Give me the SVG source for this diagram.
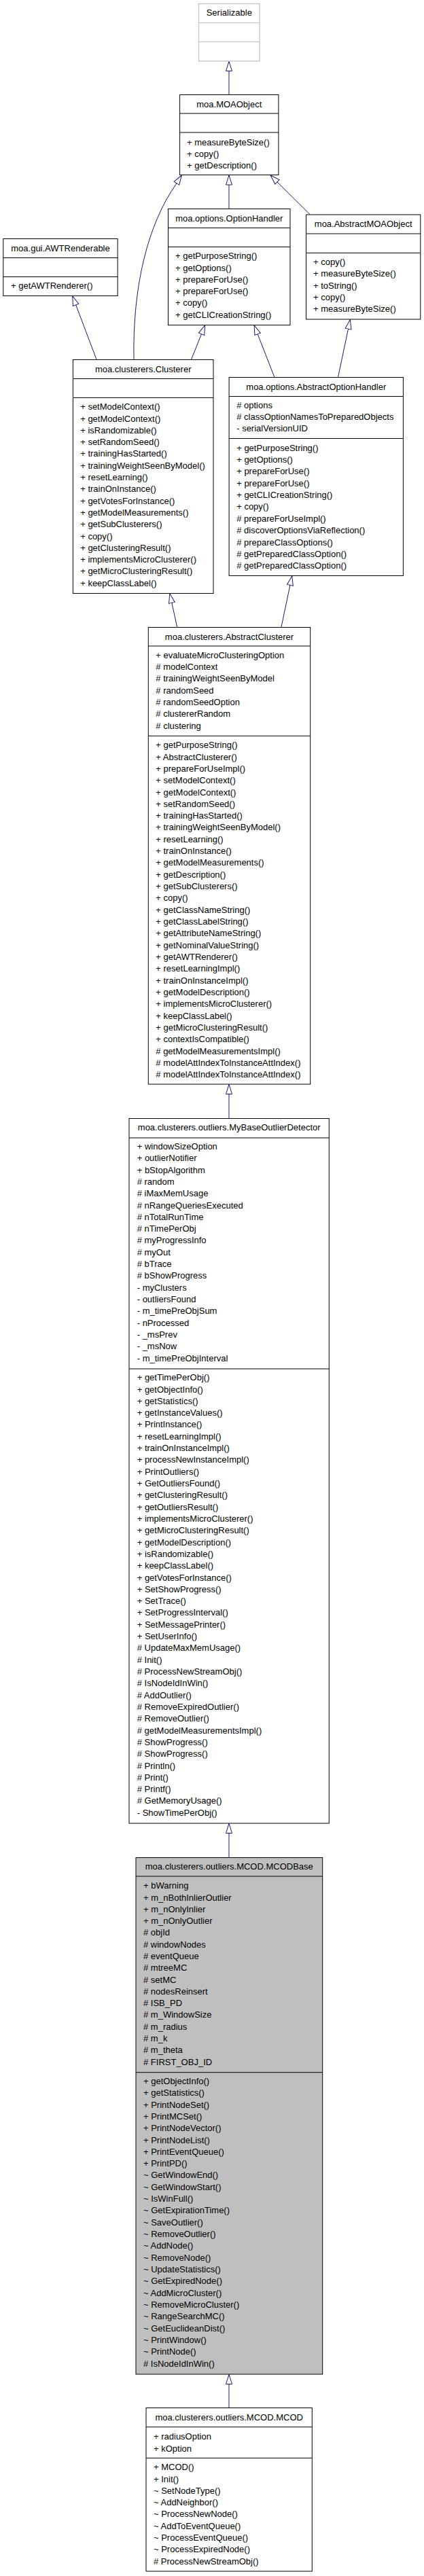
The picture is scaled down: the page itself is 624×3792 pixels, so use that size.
<svg xmlns="http://www.w3.org/2000/svg" width="624" height="3792" viewBox="0 0 624 3792">
<style>
text{font-family:"Liberation Sans",Arial,Helvetica,sans-serif;font-size:13px;fill:#000}
.c{text-anchor:middle}
.box{fill:#fff;stroke:#000;stroke-width:1}
.gbox{fill:#fff;stroke:#bfbfbf;stroke-width:1.2}
.cur{fill:#bfbfbf;stroke:#000;stroke-width:1}
.d{stroke:#000;stroke-width:1}
.gd{stroke:#bfbfbf;stroke-width:1.2}
.e{fill:none;stroke:#191970;stroke-width:1;marker-end:url(#tri)}
</style>
<defs>
<marker id="tri" markerUnits="userSpaceOnUse" markerWidth="16" markerHeight="12" refX="14.5" refY="5.5" orient="auto" viewBox="0 0 16 12">
<path d="M0.5,1 L14.5,5.5 L0.5,10 Z" fill="#fff" stroke="#191970" stroke-width="1"/>
</marker>
</defs>
<rect width="624" height="3792" fill="#fff"/>

<g id="connectors">
<path class="e" d="M337,139.3 L337,90.5"/>
<path class="e" d="M197,529.3 C195,420 218,330 258.7,271.7 L267.4,258"/>
<path class="e" d="M337,307.7 L337,258"/>
<path class="e" d="M456.5,316 L398,258"/>
<path class="e" d="M142.1,529.3 L106.7,435.8"/>
<path class="e" d="M281.4,529.3 L301.7,478.8"/>
<path class="e" d="M403.9,555.3 L374.1,478.8"/>
<path class="e" d="M497.5,555.3 L515.4,470.5"/>
<path class="e" d="M260.7,923.3 L249.9,873.8"/>
<path class="e" d="M413.9,923.3 L429.8,847.8"/>
<path class="e" d="M337,1646.7 L337,1596.5"/>
<path class="e" d="M337,2734.3 L337,2684.5"/>
<path class="e" d="M337,3544.3 L337,3495.5"/>
</g>

<g id="Serializable">
<rect class="gbox" x="292.5" y="5.5" width="89.5" height="84.5"/>
<line class="gd" x1="292.5" y1="33.5" x2="382" y2="33.5"/>
<line class="gd" x1="292.5" y1="61.5" x2="382" y2="61.5"/>
<text class="c" x="337.3" y="23">Serializable</text>
</g>

<g id="MOAObject">
<rect class="box" x="264.6" y="139.5" width="145.3" height="118"/>
<line class="d" x1="264.6" y1="167" x2="409.9" y2="167"/>
<line class="d" x1="264.6" y1="195" x2="409.9" y2="195"/>
<text class="c" x="337.3" y="157.5">moa.MOAObject</text>
<text x="275" y="213.5">+ measureByteSize()</text>
<text x="275" y="230.8">+ copy()</text>
<text x="275" y="248">+ getDescription()</text>
</g>

<g id="OptionHandler">
<rect class="box" x="247.5" y="307.5" width="179.5" height="171"/>
<line class="d" x1="247.5" y1="335.5" x2="427" y2="335.5"/>
<line class="d" x1="247.5" y1="363.5" x2="427" y2="363.5"/>
<text class="c" x="337.3" y="325.5">moa.options.OptionHandler</text>
<text x="258" y="381.2">+ getPurposeString()</text>
<text x="258" y="398.5">+ getOptions()</text>
<text x="258" y="415.8">+ prepareForUse()</text>
<text x="258" y="433.1">+ prepareForUse()</text>
<text x="258" y="450.4">+ copy()</text>
<text x="258" y="467.7">+ getCLICreationString()</text>
</g>

<g id="AbstractMOAObject">
<rect class="box" x="450.5" y="316" width="168.3" height="154"/>
<line class="d" x1="450.5" y1="344" x2="618.8" y2="344"/>
<line class="d" x1="450.5" y1="372.3" x2="618.8" y2="372.3"/>
<text class="c" x="534.7" y="334">moa.AbstractMOAObject</text>
<text x="461" y="390.2">+ copy()</text>
<text x="461" y="407.4">+ measureByteSize()</text>
<text x="461" y="424.6">+ toString()</text>
<text x="461" y="441.8">+ copy()</text>
<text x="461" y="459">+ measureByteSize()</text>
</g>

<g id="AWTRenderable">
<rect class="box" x="4.8" y="351.5" width="168.3" height="84"/>
<line class="d" x1="4.8" y1="379.5" x2="173.1" y2="379.5"/>
<line class="d" x1="4.8" y1="407.5" x2="173.1" y2="407.5"/>
<text class="c" x="89" y="369.5">moa.gui.AWTRenderable</text>
<text x="16" y="425.2">+ getAWTRenderer()</text>
</g>

<g id="Clusterer">
<rect class="box" x="107.4" y="529.5" width="206.6" height="344"/>
<line class="d" x1="107.4" y1="557.5" x2="314" y2="557.5"/>
<line class="d" x1="107.4" y1="585.5" x2="314" y2="585.5"/>
<text class="c" x="210.7" y="547.5">moa.clusterers.Clusterer</text>
<text x="118.2" y="603.2">+ setModelContext()</text>
<text x="118.2" y="620.5">+ getModelContext()</text>
<text x="118.2" y="637.8">+ isRandomizable()</text>
<text x="118.2" y="655.1">+ setRandomSeed()</text>
<text x="118.2" y="672.4">+ trainingHasStarted()</text>
<text x="118.2" y="689.7">+ trainingWeightSeenByModel()</text>
<text x="118.2" y="707">+ resetLearning()</text>
<text x="118.2" y="724.3">+ trainOnInstance()</text>
<text x="118.2" y="741.6">+ getVotesForInstance()</text>
<text x="118.2" y="758.9">+ getModelMeasurements()</text>
<text x="118.2" y="776.2">+ getSubClusterers()</text>
<text x="118.2" y="793.5">+ copy()</text>
<text x="118.2" y="810.8">+ getClusteringResult()</text>
<text x="118.2" y="828.1">+ implementsMicroClusterer()</text>
<text x="118.2" y="845.4">+ getMicroClusteringResult()</text>
<text x="118.2" y="862.7">+ keepClassLabel()</text>
</g>

<g id="AbstractOptionHandler">
<rect class="box" x="337.1" y="555.5" width="256.3" height="292"/>
<line class="d" x1="337.1" y1="583.5" x2="593.4" y2="583.5"/>
<line class="d" x1="337.1" y1="645.5" x2="593.4" y2="645.5"/>
<text class="c" x="465.3" y="573.5">moa.options.AbstractOptionHandler</text>
<text x="348.2" y="601.2"># options</text>
<text x="348.2" y="618"># classOptionNamesToPreparedObjects</text>
<text x="348.2" y="634.8">- serialVersionUID</text>
<text x="348.2" y="663.5">+ getPurposeString()</text>
<text x="348.2" y="680.9">+ getOptions()</text>
<text x="348.2" y="698.2">+ prepareForUse()</text>
<text x="348.2" y="715.6">+ prepareForUse()</text>
<text x="348.2" y="733">+ getCLICreationString()</text>
<text x="348.2" y="750.4">+ copy()</text>
<text x="348.2" y="767.7"># prepareForUseImpl()</text>
<text x="348.2" y="785.1"># discoverOptionsViaReflection()</text>
<text x="348.2" y="802.5"># prepareClassOptions()</text>
<text x="348.2" y="819.8"># getPreparedClassOption()</text>
<text x="348.2" y="837.2"># getPreparedClassOption()</text>
</g>

<g id="AbstractClusterer">
<rect class="box" x="218.3" y="923.5" width="238.4" height="672.5"/>
<line class="d" x1="218.3" y1="951" x2="456.7" y2="951"/>
<line class="d" x1="218.3" y1="1083.3" x2="456.7" y2="1083.3"/>
<text class="c" x="337.5" y="941.5">moa.clusterers.AbstractClusterer</text>
<text x="229.3" y="968.8">+ evaluateMicroClusteringOption</text>
<text x="229.3" y="986.1"># modelContext</text>
<text x="229.3" y="1003.4"># trainingWeightSeenByModel</text>
<text x="229.3" y="1020.7"># randomSeed</text>
<text x="229.3" y="1038"># randomSeedOption</text>
<text x="229.3" y="1055.3"># clustererRandom</text>
<text x="229.3" y="1072.6"># clustering</text>
<text x="229.3" y="1101.2">+ getPurposeString()</text>
<text x="229.3" y="1118.5">+ AbstractClusterer()</text>
<text x="229.3" y="1135.8">+ prepareForUseImpl()</text>
<text x="229.3" y="1153.2">+ setModelContext()</text>
<text x="229.3" y="1170.5">+ getModelContext()</text>
<text x="229.3" y="1187.8">+ setRandomSeed()</text>
<text x="229.3" y="1205.1">+ trainingHasStarted()</text>
<text x="229.3" y="1222.4">+ trainingWeightSeenByModel()</text>
<text x="229.3" y="1239.8">+ resetLearning()</text>
<text x="229.3" y="1257.1">+ trainOnInstance()</text>
<text x="229.3" y="1274.4">+ getModelMeasurements()</text>
<text x="229.3" y="1291.7">+ getDescription()</text>
<text x="229.3" y="1309">+ getSubClusterers()</text>
<text x="229.3" y="1326.4">+ copy()</text>
<text x="229.3" y="1343.7">+ getClassNameString()</text>
<text x="229.3" y="1361">+ getClassLabelString()</text>
<text x="229.3" y="1378.3">+ getAttributeNameString()</text>
<text x="229.3" y="1395.6">+ getNominalValueString()</text>
<text x="229.3" y="1413">+ getAWTRenderer()</text>
<text x="229.3" y="1430.3">+ resetLearningImpl()</text>
<text x="229.3" y="1447.6">+ trainOnInstanceImpl()</text>
<text x="229.3" y="1464.9">+ getModelDescription()</text>
<text x="229.3" y="1482.2">+ implementsMicroClusterer()</text>
<text x="229.3" y="1499.6">+ keepClassLabel()</text>
<text x="229.3" y="1516.9">+ getMicroClusteringResult()</text>
<text x="229.3" y="1534.2">+ contextIsCompatible()</text>
<text x="229.3" y="1551.5"># getModelMeasurementsImpl()</text>
<text x="229.3" y="1568.8"># modelAttIndexToInstanceAttIndex()</text>
<text x="229.3" y="1586.2"># modelAttIndexToInstanceAttIndex()</text>
</g>

<g id="MyBaseOutlierDetector">
<rect class="box" x="190" y="1646.5" width="294.3" height="1037.5"/>
<line class="d" x1="190" y1="1675" x2="484.3" y2="1675"/>
<line class="d" x1="190" y1="2015" x2="484.3" y2="2015"/>
<text class="c" x="337.2" y="1664">moa.clusterers.outliers.MyBaseOutlierDetector</text>
<text x="201.7" y="1691.8">+ windowSizeOption</text>
<text x="201.7" y="1709.1">+ outlierNotifier</text>
<text x="201.7" y="1726.5">+ bStopAlgorithm</text>
<text x="201.7" y="1743.8"># random</text>
<text x="201.7" y="1761.1"># iMaxMemUsage</text>
<text x="201.7" y="1778.5"># nRangeQueriesExecuted</text>
<text x="201.7" y="1795.8"># nTotalRunTime</text>
<text x="201.7" y="1813.1"># nTimePerObj</text>
<text x="201.7" y="1830.4"># myProgressInfo</text>
<text x="201.7" y="1847.8"># myOut</text>
<text x="201.7" y="1865.1"># bTrace</text>
<text x="201.7" y="1882.4"># bShowProgress</text>
<text x="201.7" y="1899.8">- myClusters</text>
<text x="201.7" y="1917.1">- outliersFound</text>
<text x="201.7" y="1934.4">- m_timePreObjSum</text>
<text x="201.7" y="1951.8">- nProcessed</text>
<text x="201.7" y="1969.1">- _msPrev</text>
<text x="201.7" y="1986.4">- _msNow</text>
<text x="201.7" y="2003.8">- m_timePreObjInterval</text>
<text x="201.7" y="2032.2">+ getTimePerObj()</text>
<text x="201.7" y="2049.5">+ getObjectInfo()</text>
<text x="201.7" y="2066.8">+ getStatistics()</text>
<text x="201.7" y="2084.1">+ getInstanceValues()</text>
<text x="201.7" y="2101.4">+ PrintInstance()</text>
<text x="201.7" y="2118.8">+ resetLearningImpl()</text>
<text x="201.7" y="2136.1">+ trainOnInstanceImpl()</text>
<text x="201.7" y="2153.4">+ processNewInstanceImpl()</text>
<text x="201.7" y="2170.7">+ PrintOutliers()</text>
<text x="201.7" y="2188">+ GetOutliersFound()</text>
<text x="201.7" y="2205.3">+ getClusteringResult()</text>
<text x="201.7" y="2222.6">+ getOutliersResult()</text>
<text x="201.7" y="2239.9">+ implementsMicroClusterer()</text>
<text x="201.7" y="2257.2">+ getMicroClusteringResult()</text>
<text x="201.7" y="2274.5">+ getModelDescription()</text>
<text x="201.7" y="2291.9">+ isRandomizable()</text>
<text x="201.7" y="2309.2">+ keepClassLabel()</text>
<text x="201.7" y="2326.5">+ getVotesForInstance()</text>
<text x="201.7" y="2343.8">+ SetShowProgress()</text>
<text x="201.7" y="2361.1">+ SetTrace()</text>
<text x="201.7" y="2378.4">+ SetProgressInterval()</text>
<text x="201.7" y="2395.7">+ SetMessagePrinter()</text>
<text x="201.7" y="2413">+ SetUserInfo()</text>
<text x="201.7" y="2430.3"># UpdateMaxMemUsage()</text>
<text x="201.7" y="2447.7"># Init()</text>
<text x="201.7" y="2465"># ProcessNewStreamObj()</text>
<text x="201.7" y="2482.3"># IsNodeIdInWin()</text>
<text x="201.7" y="2499.6"># AddOutlier()</text>
<text x="201.7" y="2516.9"># RemoveExpiredOutlier()</text>
<text x="201.7" y="2534.2"># RemoveOutlier()</text>
<text x="201.7" y="2551.5"># getModelMeasurementsImpl()</text>
<text x="201.7" y="2568.8"># ShowProgress()</text>
<text x="201.7" y="2586.1"># ShowProgress()</text>
<text x="201.7" y="2603.5"># Println()</text>
<text x="201.7" y="2620.8"># Print()</text>
<text x="201.7" y="2638.1"># Printf()</text>
<text x="201.7" y="2655.4"># GetMemoryUsage()</text>
<text x="201.7" y="2672.7">- ShowTimePerObj()</text>
</g>

<g id="MCODBase">
<rect class="cur" x="200" y="2734.5" width="274.7" height="760.5"/>
<line class="d" x1="200" y1="2762" x2="474.7" y2="2762"/>
<line class="d" x1="200" y1="3050.7" x2="474.7" y2="3050.7"/>
<text class="c" x="337.3" y="2752.2">moa.clusterers.outliers.MCOD.MCODBase</text>
<text x="211" y="2780.2">+ bWarning</text>
<text x="211" y="2797.5">+ m_nBothInlierOutlier</text>
<text x="211" y="2814.8">+ m_nOnlyInlier</text>
<text x="211" y="2832.1">+ m_nOnlyOutlier</text>
<text x="211" y="2849.4"># objId</text>
<text x="211" y="2866.7"># windowNodes</text>
<text x="211" y="2883.9"># eventQueue</text>
<text x="211" y="2901.2"># mtreeMC</text>
<text x="211" y="2918.5"># setMC</text>
<text x="211" y="2935.8"># nodesReinsert</text>
<text x="211" y="2953.1"># ISB_PD</text>
<text x="211" y="2970.4"># m_WindowSize</text>
<text x="211" y="2987.7"># m_radius</text>
<text x="211" y="3005"># m_k</text>
<text x="211" y="3022.3"># m_theta</text>
<text x="211" y="3039.5"># FIRST_OBJ_ID</text>
<text x="211" y="3067.8">+ getObjectInfo()</text>
<text x="211" y="3085.1">+ getStatistics()</text>
<text x="211" y="3102.5">+ PrintNodeSet()</text>
<text x="211" y="3119.8">+ PrintMCSet()</text>
<text x="211" y="3137.1">+ PrintNodeVector()</text>
<text x="211" y="3154.5">+ PrintNodeList()</text>
<text x="211" y="3171.8">+ PrintEventQueue()</text>
<text x="211" y="3189.1">+ PrintPD()</text>
<text x="211" y="3206.4">~ GetWindowEnd()</text>
<text x="211" y="3223.8">~ GetWindowStart()</text>
<text x="211" y="3241.1">~ IsWinFull()</text>
<text x="211" y="3258.4">~ GetExpirationTime()</text>
<text x="211" y="3275.8">~ SaveOutlier()</text>
<text x="211" y="3293.1">~ RemoveOutlier()</text>
<text x="211" y="3310.4">~ AddNode()</text>
<text x="211" y="3327.8">~ RemoveNode()</text>
<text x="211" y="3345.1">~ UpdateStatistics()</text>
<text x="211" y="3362.4">~ GetExpiredNode()</text>
<text x="211" y="3379.7">~ AddMicroCluster()</text>
<text x="211" y="3397.1">~ RemoveMicroCluster()</text>
<text x="211" y="3414.4">~ RangeSearchMC()</text>
<text x="211" y="3431.7">~ GetEuclideanDist()</text>
<text x="211" y="3449.1">~ PrintWindow()</text>
<text x="211" y="3466.4">~ PrintNode()</text>
<text x="211" y="3483.8"># IsNodeIdInWin()</text>
</g>

<g id="MCOD">
<rect class="box" x="215" y="3544.5" width="244.3" height="240.5"/>
<line class="d" x1="215" y1="3572.7" x2="459.3" y2="3572.7"/>
<line class="d" x1="215" y1="3618.3" x2="459.3" y2="3618.3"/>
<text class="c" x="337.2" y="3562.8">moa.clusterers.outliers.MCOD.MCOD</text>
<text x="226" y="3591.2">+ radiusOption</text>
<text x="226" y="3608.5">+ kOption</text>
<text x="226" y="3636.2">+ MCOD()</text>
<text x="226" y="3653.5">+ Init()</text>
<text x="226" y="3670.8">~ SetNodeType()</text>
<text x="226" y="3688.1">~ AddNeighbor()</text>
<text x="226" y="3705.4">~ ProcessNewNode()</text>
<text x="226" y="3722.7">~ AddToEventQueue()</text>
<text x="226" y="3740">~ ProcessEventQueue()</text>
<text x="226" y="3757.3">~ ProcessExpiredNode()</text>
<text x="226" y="3774.5"># ProcessNewStreamObj()</text>
</g>
</svg>
